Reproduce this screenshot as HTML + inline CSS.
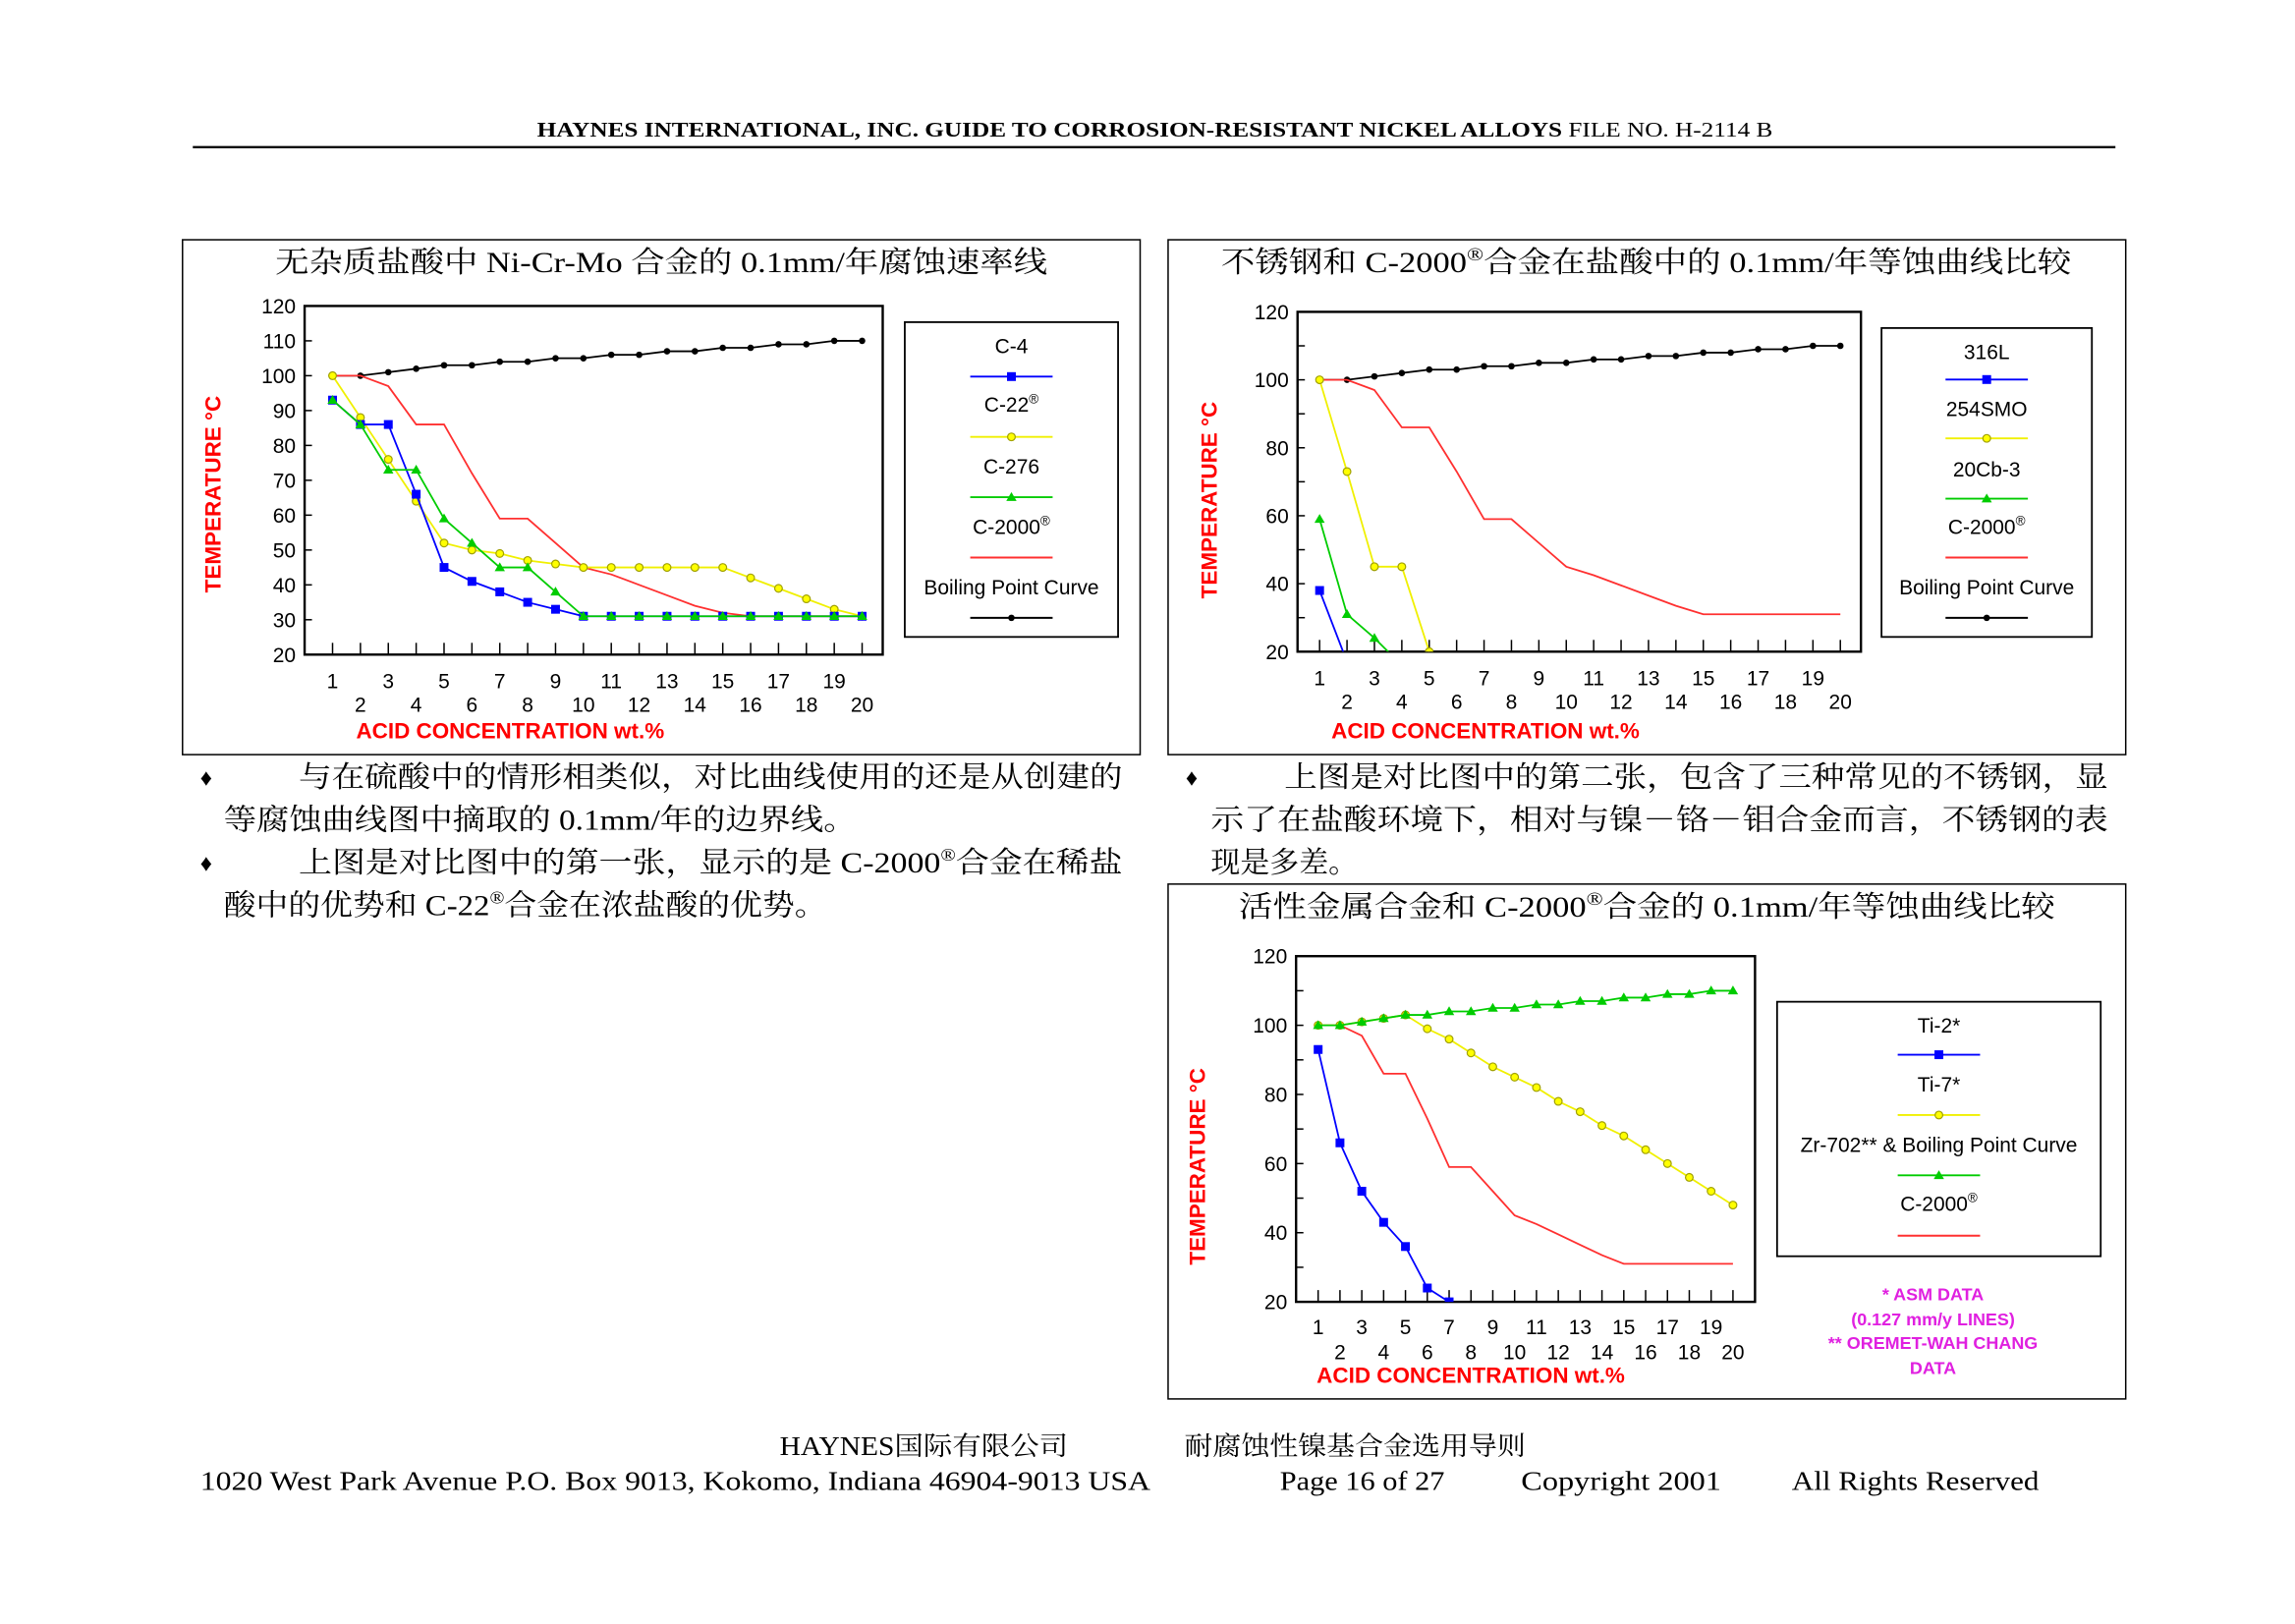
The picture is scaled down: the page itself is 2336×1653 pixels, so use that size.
<!DOCTYPE html>
<html><head><meta charset="utf-8"><style>
html,body{margin:0;padding:0;background:#fff;}
svg{display:block;}
.serif{font-family:"Liberation Serif","Noto Serif CJK SC","Noto Sans CJK SC",serif;}
.sans{font-family:"Liberation Sans","Noto Sans CJK SC",sans-serif;}
</style></head><body>
<svg id="page" width="2336" height="1653" viewBox="0 0 1560 1104" xmlns="http://www.w3.org/2000/svg">
<rect x="0" y="0" width="1560" height="1104" fill="#fff"/>
<g class="serif">
<text x="365" y="93" font-size="14" font-weight="bold" textLength="840" lengthAdjust="spacingAndGlyphs">HAYNES INTERNATIONAL, INC.    GUIDE TO CORROSION-RESISTANT NICKEL ALLOYS    <tspan font-weight="normal">FILE NO. H-2114 B</tspan></text>
<line x1="131" y1="100" x2="1438" y2="100" stroke="#000" stroke-width="1.5"/>
</g>

<g class="serif" font-size="20">
<text x="136" y="534" font-size="16">♦</text>
<text x="203" y="535" textLength="560" lengthAdjust="spacingAndGlyphs">与在硫酸中的情形相类似，对比曲线使用的还是从创建的</text>
<text x="152" y="564" textLength="430" lengthAdjust="spacingAndGlyphs">等腐蚀曲线图中摘取的 0.1mm/年的边界线。</text>
<text x="136" y="592" font-size="16">♦</text>
<text x="203" y="593" textLength="560" lengthAdjust="spacingAndGlyphs">上图是对比图中的第一张，显示的是 C-2000<tspan font-size="12" dy="-8">®</tspan><tspan dy="8">合金在稀盐</tspan></text>
<text x="152" y="622" textLength="410" lengthAdjust="spacingAndGlyphs">酸中的优势和 C-22<tspan font-size="12" dy="-8">®</tspan><tspan dy="8">合金在浓盐酸的优势。</tspan></text>
</g>
<g class="serif" font-size="20">
<text x="806" y="534" font-size="16">♦</text>
<text x="873" y="535" textLength="560" lengthAdjust="spacingAndGlyphs">上图是对比图中的第二张，包含了三种常见的不锈钢，显</text>
<text x="823" y="564" textLength="610" lengthAdjust="spacingAndGlyphs">示了在盐酸环境下，相对与镍－铬－钼合金而言，不锈钢的表</text>
<text x="823" y="593" textLength="100" lengthAdjust="spacingAndGlyphs">现是多差。</text>
</g>

<g class="serif" font-size="18">
<text x="530" y="989" textLength="196" lengthAdjust="spacingAndGlyphs">HAYNES国际有限公司</text>
<text x="805" y="989" textLength="232" lengthAdjust="spacingAndGlyphs">耐腐蚀性镍基合金选用导则</text>
<text x="136" y="1013" textLength="646" lengthAdjust="spacingAndGlyphs">1020 West Park Avenue P.O. Box 9013, Kokomo, Indiana 46904-9013 USA</text>
<text x="870" y="1013" textLength="112" lengthAdjust="spacingAndGlyphs">Page 16 of 27</text>
<text x="1034" y="1013" textLength="136" lengthAdjust="spacingAndGlyphs">Copyright 2001</text>
<text x="1218" y="1013" textLength="168" lengthAdjust="spacingAndGlyphs">All Rights Reserved</text>
</g>
<g id="charts"></g>
</svg>
<script>
// ---------- data ----------
const concentration = [1,2,3,4,5,6,7,8,9,10,11,12,13,14,15,16,17,18,19,20];
const yTicks = [20,30,40,50,60,70,80,90,100,110,120];
const yTicksCoarse = [20,40,60,80,100,120];
const boilingPoint = [100,100,101,102,103,103,104,104,105,105,106,106,107,107,108,108,109,109,110,110];
const c2000Curve = [100,100,97,86,86,72,59,59,52,45,43,40,37,34,32,31,31,31,31,31];
const c2000CurveB = [100,100,97,86,86,73,59,59,52,45,42.5,39.5,36.5,33.5,31,31,31,31,31,31];
// chart 1
const c4Values = [93,86,86,66,45,41,38,35,33,31,31,31,31,31,31,31,31,31,31,31];
const c22Values = [100,88,76,64,52,50,49,47,46,45,45,45,45,45,45,42,39,36,33,31];
const c276Values = [93,86,73,73,59,52,45,45,38,31,31,31,31,31,31,31,31,31,31,31];
// chart 2
const s316LValues = [38,17];
const s254SMOValues = [100,73,45,45,20];
const s20Cb3Values = [59,31,24,16];
// chart 3
const ti2Values = [93,66,52,43,36,24,20];
const ti7Values = [100,100,101,102,103,99,96,92,88,85,82,78,75,71,68,64,60,56,52,48];
const zr702Values = [100,100,101,102,103,103,104,104,105,105,106,106,107,107,108,108,109,109,110,110];

const NS = 'http://www.w3.org/2000/svg';
const root = document.getElementById('charts');
function mk(tag, attrs, parent) {
  const e = document.createElementNS(NS, tag);
  for (const k in attrs) e.setAttribute(k, attrs[k]);
  (parent || root).appendChild(e);
  return e;
}
const styles = {
  blue: {stroke:'#0000ff', fill:'#0000ff', mk:'square'},
  yellow: {stroke:'#f0f000', fill:'#ffff00', mk:'circle'},
  green: {stroke:'#00cc00', fill:'#00cc00', mk:'triangle'},
  red: {stroke:'#ff3030', fill:'none', mk:'none'},
  black: {stroke:'#000', fill:'#000', mk:'dot'}
};
function marker(g, t, x, y, st) {
  let e;
  if (t === 'square') e = mk('rect', {x:x-3, y:y-3, width:6, height:6, fill:st.fill}, g);
  else if (t === 'circle') e = mk('circle', {cx:x, cy:y, r:2.6, fill:st.fill, stroke:'#a0a000', 'stroke-width':0.8}, g);
  else if (t === 'triangle') e = mk('path', {d:`M${x} ${y-3.5}L${x+3.5} ${y+2.5}L${x-3.5} ${y+2.5}Z`, fill:st.fill}, g);
  else if (t === 'dot') e = mk('circle', {cx:x, cy:y, r:2.2, fill:'#000'}, g);
  else return;
  
  
}

function drawChart(c) {
  const g = mk('g', {});
  
  
  const box = mk('rect', {x:c.box[0], y:c.box[1], width:c.box[2], height:c.box[3], fill:'none', stroke:'#000', 'stroke-width':1}, g);
  
  
  const title = mk('text', {x:c.titleX, y:c.titleY, 'font-size':20, textLength:c.titleLen, lengthAdjust:'spacingAndGlyphs', class:'serif'}, g);
  
  
  title.innerHTML = c.title;
  const [px0, py0, px1, py1] = c.frame;
  const sx = i => c.xa + (i - 1) * (c.xb - c.xa) / 19;
  const sy = v => c.yb - (v - 20) / 100 * (c.yb - c.ya);
  const fr = mk('rect', {x:px0, y:py0, width:px1-px0, height:py1-py0, fill:'none', stroke:'#000', 'stroke-width':1.6}, g);
  
  
  yTicks.forEach(v => {
    const t = mk('line', {x1:px0, x2:px0+5, y1:sy(v), y2:sy(v), stroke:'#000', 'stroke-width':1}, g);
    
    
  });
  c.yLabels.forEach(v => {
    const t = mk('text', {x:px0-6, y:sy(v)+5, 'font-size':14, 'text-anchor':'end', class:'sans'}, g);
    
    
    t.textContent = v;
  });
  concentration.forEach(i => {
    const t = mk('line', {x1:sx(i), x2:sx(i), y1:py1, y2:py1-8, stroke:'#000', 'stroke-width':1}, g);
    
    
    const l = mk('text', {x:sx(i), y:(i % 2 ? c.oddY : c.evenY) + 5, 'font-size':14, 'text-anchor':'middle', class:'sans'}, g);
    
    
    l.textContent = i;
  });
  const xt = mk('text', {x:c.xTitle[0], y:c.xTitle[1]+5, 'font-size':15, 'font-weight':'bold', fill:'#ff0000', class:'sans'}, g);
  
  
  xt.textContent = 'ACID CONCENTRATION  wt.%';
  const yt = mk('text', {x:0, y:0, 'font-size':15, 'font-weight':'bold', fill:'#ff0000', class:'sans', 'text-anchor':'middle', transform:`translate(${c.yTitle[0]+5},${c.yTitle[1]}) rotate(-90)`}, g);
  
  
  yt.textContent = 'TEMPERATURE  °C';
  const cpId = c.name + '-clip';
  const defs = mk('defs', {}, g);
  const cp = mk('clipPath', {id:cpId}, defs);
  mk('rect', {x:px0, y:py0, width:px1-px0, height:py1-py0}, cp);
  const sg = mk('g', {'clip-path':`url(#${cpId})`}, g);
  c.series.forEach(s => {
    const st = styles[s.style];
    const sgr = mk('g', {}, sg);
    
    
    const pts = s.values.map((v, k) => sx(concentration[k]) + ',' + sy(v)).join(' ');
    mk('polyline', {points:pts, fill:'none', stroke:st.stroke, 'stroke-width':1.2}, sgr);
    s.values.forEach((v, k) => marker(sgr, st.mk, sx(concentration[k]), sy(v), st));
  });
  const lg = mk('g', {}, g);
  
  
  mk('rect', {x:c.legend[0], y:c.legend[1], width:c.legend[2], height:c.legend[3], fill:'#fff', stroke:'#000', 'stroke-width':1.2}, lg);
  const cx = c.legend[0] + c.legend[2] / 2;
  c.legendEntries.forEach(en => {
    const eg = mk('g', {}, lg);
    
    
    const t = mk('text', {x:cx, y:en.ty+5, 'font-size':14, 'text-anchor':'middle', class:'sans'}, eg);
    t.innerHTML = en.label;
    const st = styles[en.style];
    mk('line', {x1:cx-28, x2:cx+28, y1:en.ly, y2:en.ly, stroke:st.stroke, 'stroke-width':1.3}, eg);
    marker(eg, st.mk, cx, en.ly, st);
  });
}
const REG = '<tspan font-size="9" dy="-6">®</tspan>';
drawChart({
  name:'chart-ni-cr-mo', box:[124,163,651,350], titleX:187, titleY:185, titleLen:525,
  title:'无杂质盐酸中 Ni-Cr-Mo 合金的 0.1mm/年腐蚀速率线',
  frame:[207,208,600,445], xa:226, xb:586, ya:208, yb:445, yLabels:yTicks,
  oddY:463, evenY:479, xTitle:[242,497], yTitle:[145,336],
  series:[
    {name:'boiling-point-series', values:boilingPoint, style:'black'},
    {name:'c2000-series', values:c2000Curve, style:'red'},
    {name:'c22-series', values:c22Values, style:'yellow'},
    {name:'c4-series', values:c4Values, style:'blue'},
    {name:'c276-series', values:c276Values, style:'green'}
  ],
  legend:[615,219,145,214],
  legendEntries:[
    {label:'C-4', ty:235, ly:256, style:'blue'},
    {label:'C-22'+REG, ty:275, ly:297, style:'yellow'},
    {label:'C-276', ty:317, ly:338, style:'green'},
    {label:'C-2000'+REG, ty:358, ly:379, style:'red'},
    {label:'Boiling Point Curve', ty:399, ly:420, style:'black'}
  ]
});
drawChart({
  name:'chart-stainless', box:[794,163,651,350], titleX:830, titleY:185, titleLen:578,
  title:'不锈钢和 C-2000<tspan font-size="13" dy="-8">®</tspan><tspan dy="8">合金在盐酸中的 0.1mm/年等蚀曲线比较</tspan>',
  frame:[882,212,1265,443], xa:897, xb:1251, ya:212, yb:443, yLabels:yTicksCoarse,
  oddY:461, evenY:477, xTitle:[905,497], yTitle:[822,340],
  series:[
    {name:'boiling-point-series', values:boilingPoint, style:'black'},
    {name:'c2000-series', values:c2000CurveB, style:'red'},
    {name:'254smo-series', values:s254SMOValues, style:'yellow'},
    {name:'20cb3-series', values:s20Cb3Values, style:'green'},
    {name:'316l-series', values:s316LValues, style:'blue'}
  ],
  legend:[1279,223,143,210],
  legendEntries:[
    {label:'316L', ty:239, ly:258, style:'blue'},
    {label:'254SMO', ty:278, ly:298, style:'yellow'},
    {label:'20Cb-3', ty:319, ly:339, style:'green'},
    {label:'C-2000'+REG, ty:358, ly:379, style:'red'},
    {label:'Boiling Point Curve', ty:399, ly:420, style:'black'}
  ]
});
drawChart({
  name:'chart-reactive-metals', box:[794,601,651,350], titleX:842, titleY:623, titleLen:555,
  title:'活性金属合金和 C-2000<tspan font-size="13" dy="-8">®</tspan><tspan dy="8">合金的 0.1mm/年等蚀曲线比较</tspan>',
  frame:[881,650,1193,885], xa:896, xb:1178, ya:650, yb:885, yLabels:yTicksCoarse,
  oddY:902, evenY:919, xTitle:[895,935], yTitle:[814,793],
  series:[
    {name:'c2000-series', values:c2000CurveB, style:'red'},
    {name:'ti7-series', values:ti7Values, style:'yellow'},
    {name:'zr702-series', values:zr702Values, style:'green'},
    {name:'ti2-series', values:ti2Values, style:'blue'}
  ],
  legend:[1208,681,220,173],
  legendEntries:[
    {label:'Ti-2*', ty:697, ly:717, style:'blue'},
    {label:'Ti-7*', ty:737, ly:758, style:'yellow'},
    {label:'Zr-702** &amp; Boiling Point Curve', ty:778, ly:799, style:'green'},
    {label:'C-2000'+REG, ty:818, ly:840, style:'red'}
  ]
});
const notes = ['* ASM DATA','(0.127 mm/y LINES)','** OREMET-WAH CHANG','DATA'];
const noteY = [880,897,913,930];
notes.forEach((n, k) => {
  const t = mk('text', {x:1314, y:noteY[k]+4, 'font-size':12, 'font-weight':'bold', fill:'#e020e0', 'text-anchor':'middle', class:'sans'});
  
  
  t.textContent = n;
});
</script>
</body></html>
